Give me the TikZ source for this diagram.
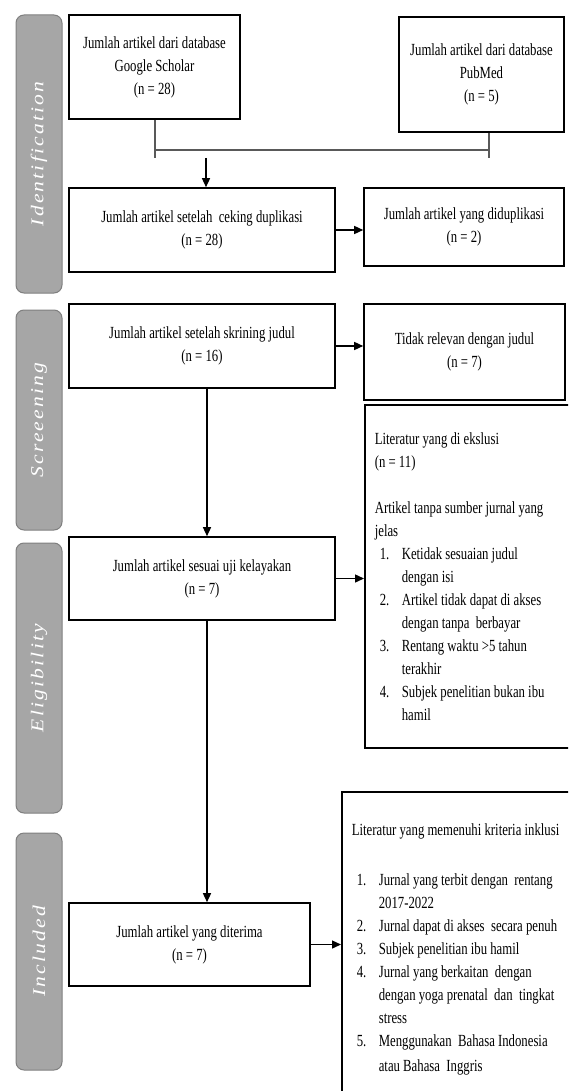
\documentclass[tikz,border=0pt]{standalone}
\usepackage{fontspec}
\setmainfont{Liberation Serif}[FakeStretch=0.75]
\newfontfamily\stagefont{Liberation Serif}[LetterSpace=12,FakeStretch=1.2]
\usetikzlibrary{arrows.meta,calc}

\definecolor{stagefill}{HTML}{A6A6A6}
\definecolor{stageline}{HTML}{7F7F7F}
\definecolor{bracketgray}{HTML}{595959}

\newcommand{\numitem}[1]{\hspace*{5pt}\makebox[22pt][l]{#1}}
\newcommand{\contitem}{\hspace*{27pt}}

\tikzset{
  box/.style={draw, line width=1.6pt, inner sep=0pt, align=flush center,
    font=\fontsize{17}{23}\selectfont},
  listbox/.style={box, align=flush left, inner xsep=10pt, anchor=west},
  stage/.style={draw=stageline, fill=stagefill, line width=1pt, rounded corners=8pt,
    rotate=90, minimum height=46pt, inner sep=0pt, text=white,
    font=\stagefont\fontsize{18}{18}\selectfont\itshape},
  arr/.style={line width=1.4pt, -{Triangle[length=9pt,width=8pt]}},
  bracketline/.style={line width=1.2pt, draw=bracketgray}
}

\begin{document}
\begin{tikzpicture}[x=1pt,y=-1pt]
  \useasboundingbox (0,0) rectangle (568,1091);
  \clip (0,0) rectangle (568,1091);

  % stages
  \node[stage, minimum width=278pt] (sid) at (39,154) {Identification};
  \node[stage, minimum width=220pt] (sscr) at (39,420) {Screeening};
  \node[stage, minimum width=270pt] (selig) at (39,678) {Eligibility};
  \node[stage, minimum width=237pt] (sinc) at (39,951.5) {Included};

  % identification
  \node[box, minimum width=171pt, minimum height=104pt] (gs) at (154.5,67)
    {Jumlah artikel dari database\\Google Scholar\\(n = 28)};
  \node[box, minimum width=165pt, minimum height=115pt] (pm) at (481.5,74.5)
    {Jumlah artikel dari database\\PubMed\\(n = 5)};
  \node[box, minimum width=266pt, minimum height=84pt] (dup) at (202,230)
    {Jumlah artikel setelah ~ceking duplikasi\\(n = 28)};
  \node[box, minimum width=200pt, minimum height=78pt] (dupd) at (464,227)
    {Jumlah artikel yang diduplikasi\\(n = 2)};

  % screening
  \node[box, minimum width=266pt, minimum height=84pt] (scr) at (202,346)
    {Jumlah artikel setelah skrining judul\\(n = 16)};
  \node[box, minimum width=201pt, minimum height=96pt] (notrel) at (464.5,352)
    {Tidak relevan dengan judul\\(n = 7)};
  \node[listbox, text width=230pt, minimum height=343pt] (excl) at (364,576.5)
    {Literatur yang di ekslusi\\
     (n = 11)\\[23pt]
     Artikel tanpa sumber jurnal yang\\
     jelas\\
     \numitem{1.}Ketidak sesuaian judul\\
     \contitem dengan isi\\
     \numitem{2.}Artikel tidak dapat di akses\\
     \contitem dengan tanpa ~berbayar\\
     \numitem{3.}Rentang waktu >5 tahun\\
     \contitem terakhir\\
     \numitem{4.}Subjek penelitian bukan ibu\\
     \contitem hamil};

  % eligibility
  \node[box, minimum width=266pt, minimum height=83pt] (elig) at (202,578.5)
    {Jumlah artikel sesuai uji kelayakan\\(n = 7)};

  % included
  \node[box, minimum width=241pt, minimum height=83pt] (inc) at (189.5,944.5)
    {Jumlah artikel yang diterima\\(n = 7)};
  \node[listbox, text width=250pt, minimum height=314pt] (incl) at (341,949)
    {Literatur yang memenuhi kriteria inklusi\\[27pt]
     \numitem{1.}Jurnal yang terbit dengan ~rentang\\
     \contitem 2017-2022\\
     \numitem{2.}Jurnal dapat di akses ~secara penuh\\
     \numitem{3.}Subjek penelitian ibu hamil\\
     \numitem{4.}Jurnal yang berkaitan ~dengan\\
     \contitem dengan yoga prenatal ~dan ~tingkat\\
     \contitem stress\\
     \numitem{5.}Menggunakan ~Bahasa Indonesia\\[2pt]
     \contitem atau Bahasa ~Inggris};

  % bracket joining the two databases
  \coordinate (brL) at (155,150);
  \coordinate (brR) at (489,150);
  \coordinate (brLend) at (155,158);
  \coordinate (brRend) at (489,158);
  \coordinate (mergetop) at (206,158);
  \draw[bracketline] (gs.south -| brL) -- (brLend);
  \draw[bracketline] (pm.south -| brR) -- (brRend);
  \draw[bracketline] (brL) -- (brR);

  % arrows
  \draw[arr] (mergetop) -- (mergetop |- dup.north);
  \draw[arr] (dup.east) -- (dup.east -| dupd.west);
  \draw[arr] (scr.east) -- (scr.east -| notrel.west);
  \draw[arr] ([xshift=5pt]scr.south) -- ([xshift=5pt]elig.north);
  \draw[arr] (elig.east) -- (elig.east -| excl.west);
  \draw[arr] ([xshift=5pt]elig.south) -- ([xshift=5pt]elig.south |- inc.north);
  \draw[arr] (inc.east) -- (inc.east -| incl.west);
\end{tikzpicture}
\end{document}
